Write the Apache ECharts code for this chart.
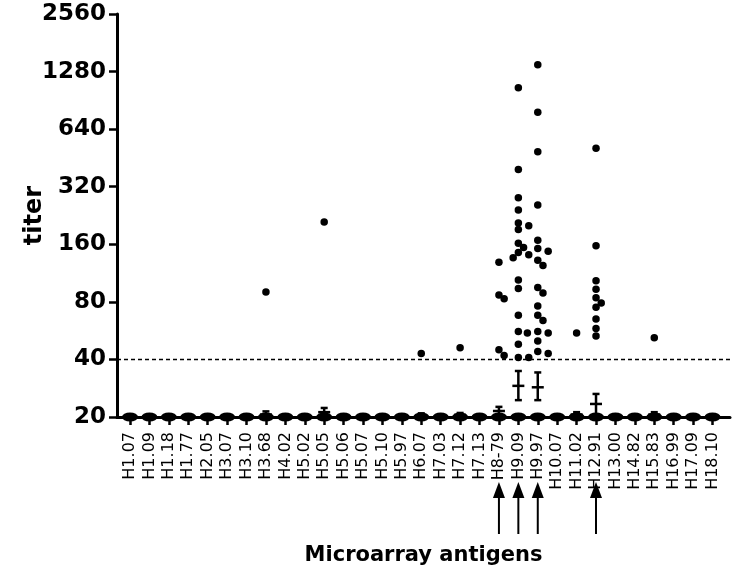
<!DOCTYPE html>
<html><head><meta charset="utf-8">
<script src="https://cdn.jsdelivr.net/npm/echarts@6/dist/echarts.min.js"></script>
<style>html,body{margin:0;padding:0;background:#fff}#c{width:733px;height:579px}</style>
</head><body><div id="c"></div>
<script>
const categories = ['H1.07','H1.09','H1.18','H1.77','H2.05','H3.07','H3.10','H3.68','H4.02','H5.02','H5.05','H5.06','H5.07','H5.10','H5.97','H6.07','H7.03','H7.12','H7.13','H8-79','H9.09','H9.97','H10.07','H11.02','H12.91','H13.00','H14.82','H15.83','H16.99','H17.09','H18.10'];
const yTicks = [20,40,80,160,320,640,1280,2560];
const floorTiter = 20;
const cutoffTiter = 40;
// titers above the floor (20), per antigen
const titersAbove20 = {
  'H3.68': [90],
  'H5.05': [209],
  'H6.07': [43],
  'H7.12': [46],
  'H8-79': [129, 87, 83, 45, 42],
  'H9.09': [1052, 394, 280, 242, 207, 200, 191, 162, 154, 145, 141, 136, 104, 94, 68, 56, 48, 41, 41],
  'H9.97': [1390, 785, 487, 257, 168, 152, 147, 132, 124, 95, 89, 76, 68, 64, 56, 55, 55, 50, 44, 43],
  'H11.02': [55],
  'H12.91': [509, 157, 103, 93, 84, 79, 75, 65, 58, 53],
  'H15.83': [52]
};
// mean ± SEM
const meanCategory = ['H3.68','H5.05','H6.07','H7.12','H8-79','H9.09','H9.97','H11.02','H12.91','H15.83'];
const meanTiter   = [20.6, 21.2, 20.4, 20.5, 21.5, 29.1, 28.6, 20.6, 23.4, 20.6];
const semLow      = [20.0, 20.0, 20.0, 20.0, 20.0, 24.5, 24.5, 20.0, 20.4, 20.0];
const semHigh     = [21.4, 22.3, 20.9, 21.0, 22.6, 34.8, 34.2, 21.2, 26.4, 21.2];
const arrowCategories = ['H8-79','H9.09','H9.97','H12.91'];

const FONT = 'DejaVu Sans';
const idxs = categories.map((c, i) => i);
const chart = echarts.init(document.getElementById('c'), null, {renderer: 'canvas'});

function rawPoints() {
  const out = [];
  Object.keys(titersAbove20).forEach(c => {
    const i = categories.indexOf(c);
    titersAbove20[c].forEach(v => out.push([i, v]));
  });
  return out;
}

const option = {
  animation: false,
  backgroundColor: '#fff',
  grid: {left: 117, right: 3, top: 14, bottom: 162, containLabel: false, outerBoundsMode: 'none'},
  xAxis: {
    type: 'value', min: -0.67, max: 30.9,
    axisLine: {show: true, onZero: false, lineStyle: {color: '#000', width: 3}},
    axisTick: {show: true, customValues: idxs, length: 8, lineStyle: {color: '#000', width: 2.5}},
    axisLabel: {customValues: idxs, rotate: 90, margin: 15, color: '#000', fontSize: 16, fontFamily: FONT,
      formatter: v => categories[Math.round(v)] || ''},
    splitLine: {show: false},
    name: 'Microarray antigens', nameLocation: 'middle', nameGap: 128, nameMoveOverlap: false,
    nameTextStyle: {color: '#000', fontSize: 21, fontWeight: 'bold', fontFamily: FONT}
  },
  yAxis: {
    type: 'log', logBase: 2, min: 20, max: 2560,
    axisLine: {show: true, onZero: false, lineStyle: {color: '#000', width: 3}},
    axisTick: {show: true, customValues: yTicks, length: 8, lineStyle: {color: '#000', width: 2.5}},
    axisLabel: {customValues: yTicks, margin: 11, color: '#000', fontSize: 23, fontWeight: 'bold', fontFamily: FONT,
      formatter: v => String(Math.round(v))},
    splitLine: {show: false},
    name: 'titer', nameLocation: 'middle', nameRotate: 90, nameGap: 70, nameMoveOverlap: false,
    nameTextStyle: {color: '#000', fontSize: 24, fontWeight: 'bold', fontFamily: FONT}
  },
  series: [
    {
      name: 'floor', type: 'scatter', z: 3,
      symbol: 'path://M0,5 A10,5 0 1,1 20,5 A10,5 0 1,1 0,5 Z', symbolSize: [16, 9],
      itemStyle: {color: '#000', opacity: 1},
      data: idxs.map(i => [i, floorTiter]), clip: false
    },
    {
      name: 'titers', type: 'scatter', z: 4, symbol: 'circle', symbolSize: 7.5,
      itemStyle: {color: '#000', opacity: 1},
      data: rawPoints()
    },
    {
      name: 'mean', type: 'custom', z: 5, clip: false,
      data: meanCategory.map((c, k) => [categories.indexOf(c), meanTiter[k], semLow[k], semHigh[k]]),
      renderItem: (params, api) => {
        const i = api.value(0);
        const pm = api.coord([i, api.value(1)]);
        const pl = api.coord([i, api.value(2)]);
        const ph = api.coord([i, api.value(3)]);
        const x = pm[0];
        const st = {stroke: '#000', lineWidth: 2.5};
        return {type: 'group', children: [
          {type: 'line', shape: {x1: x, y1: pl[1], x2: x, y2: ph[1]}, style: st},
          {type: 'line', shape: {x1: x - 3.5, y1: ph[1], x2: x + 3.5, y2: ph[1]}, style: st},
          {type: 'line', shape: {x1: x - 3.5, y1: pl[1], x2: x + 3.5, y2: pl[1]}, style: st},
          {type: 'line', shape: {x1: x - 6, y1: pm[1], x2: x + 6, y2: pm[1]}, style: st}
        ]};
      },
      markLine: {
        silent: true, symbol: ['none', 'none'], label: {show: false},
        lineStyle: {color: '#000', width: 1.3, type: [4, 3]},
        data: [{yAxis: cutoffTiter}]
      }
    },
    {
      name: 'arrows', type: 'custom', z: 6, clip: false,
      data: arrowCategories.map(c => [categories.indexOf(c)]),
      renderItem: (params, api) => {
        const x = api.coord([api.value(0), floorTiter])[0];
        return {type: 'group', children: [
          {type: 'polygon', shape: {points: [[x, 482], [x - 6, 498], [x + 6, 498]]}, style: {fill: '#000'}},
          {type: 'line', shape: {x1: x, y1: 496, x2: x, y2: 534}, style: {stroke: '#000', lineWidth: 2}}
        ]};
      }
    }
  ]
};
chart.setOption(option);

// beeswarm layout of the dots, using the chart's own scales
(function () {
  const x0 = chart.convertToPixel({xAxisIndex: 0}, 0);
  const x1 = chart.convertToPixel({xAxisIndex: 0}, 1);
  const catPx = x1 - x0;
  const step = 5.2, minDist = 6.2;
  const out = [];
  Object.keys(titersAbove20).forEach(c => {
    const i = categories.indexOf(c);
    const placed = [];
    titersAbove20[c].slice().sort((a, b) => b - a).forEach(v => {
      const py = chart.convertToPixel({yAxisIndex: 0}, v);
      const cands = [0, 1, -1, 2, -2, 3, -3];
      let dx = 0;
      for (const k of cands) {
        const d = k * step;
        if (placed.every(p => Math.hypot(p.dx - d, p.py - py) >= minDist)) { dx = d; break; }
      }
      placed.push({dx: dx, py: py});
      out.push([i + dx / catPx, v]);
    });
  });
  chart.setOption({series: [{}, {data: out}]});
})();
</script>
</body></html>
